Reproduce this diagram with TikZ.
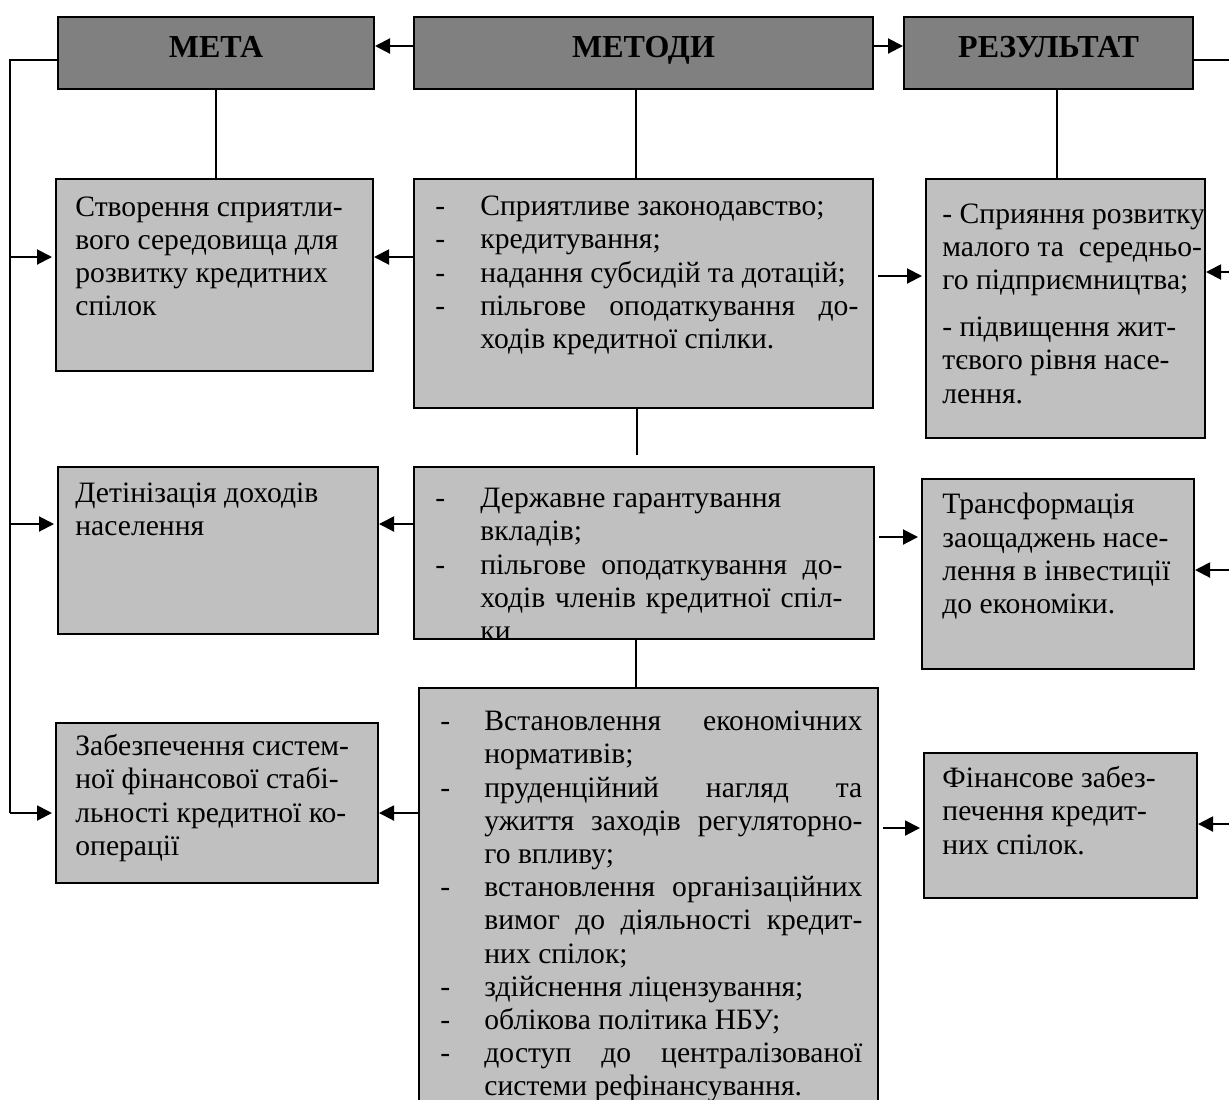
\documentclass[tikz,border=0pt]{standalone}
\usepackage{fontspec}
\setmainfont{Liberation Serif}
\usetikzlibrary{arrows.meta}
\definecolor{headgray}{HTML}{808080}
\definecolor{boxgray}{HTML}{C0C0C0}
\tolerance=10000 \hbadness=10000 \hyphenpenalty=10000
\newlength{\dashw}
\newcommand{\dashln}{\noindent\hangindent=\dashw\hangafter=1\makebox[\dashw][l]{\strut-}}
\tikzset{
  head/.style={draw,line width=1pt,fill=headgray,anchor=north west,inner sep=0pt,
    font=\fontsize{16}{19}\selectfont\bfseries,text height=11pt,text depth=7pt},
  cell/.style={draw,line width=1pt,fill=boxgray,anchor=north west,inner sep=0pt},
  txt/.style={anchor=north west,inner sep=0pt,font=\fontsize{14.8}{16.6}\selectfont,align=left},
  jtxt/.style={txt,align=justify},
  arr/.style={line width=1pt,-{Triangle[length=7.5pt,width=7.5pt]}},
  ln/.style={line width=0.8pt}
}
\begin{document}
\begin{tikzpicture}[x=0.5pt,y=-0.5pt]
\useasboundingbox (0,0) rectangle (1229,1099);
%\draw[teal,step=50] (0,0) grid (1229,1099);
% top row
\node[head,minimum width=158pt,minimum height=36pt] (meta) at (57,16) {МЕТА};
\node[head,minimum width=229.5pt,minimum height=36pt] (metody) at (413,16) {МЕТОДИ};
\node[head,minimum width=144.5pt,minimum height=36pt] (rezult) at (903,16) {РЕЗУЛЬТАТ};
% boxes
\node[cell,minimum width=158.5pt,minimum height=96pt] (goal1) at (55,178) {};
\node[cell,minimum width=160pt,minimum height=83.5pt] (goal2) at (57,466) {};
\node[cell,minimum width=161pt,minimum height=80pt] (goal3) at (55,722) {};
\node[cell,minimum width=229.5pt,minimum height=114.5pt] (meth1) at (413,178) {};
\node[cell,minimum width=230pt,minimum height=86pt] (meth2) at (413,466) {};
\node[cell,minimum width=229.5pt,minimum height=230pt] (meth3) at (418,687) {};
\node[cell,minimum width=139.5pt,minimum height=129.5pt] (res1) at (925,178) {};
\node[cell,minimum width=136pt,minimum height=95pt] (res2) at (921,478) {};
\node[cell,minimum width=136.5pt,minimum height=72.5pt] (res3) at (923,752) {};
% texts
\node[txt] (goal1t) at (75,196) {Створення сприятли-\\вого середовища для\\розвитку кредитних\\спілок};
\node[txt] (goal2t) at (75,482) {Детінізація доходів\\населення};
\node[txt] (goal3t) at (75,734) {Забезпечення систем-\\ної фінансової стабі-\\льності кредитної ко-\\операції};
\node[jtxt,text width=211.5pt] (meth1t) at (435,192) {\setlength{\dashw}{22.5pt}%
\dashln Сприятливе законодавство;\par
\dashln кредитування;\par
\dashln надання субсидій та дотацій;\par
\dashln пільгове оподаткування до-\linebreak ходів кредитної спілки.\par};
\begin{scope}
\clip (meth2.north west) rectangle (meth2.south east);
\node[jtxt,text width=203.5pt] (meth2t) at (435,484) {\setlength{\dashw}{22.5pt}%
\dashln Державне гарантування\hfil\break вкладів;\par
\dashln пільгове оподаткування  до-\linebreak ходів  членів кредитної спіл-\linebreak ки\par};
\end{scope}
\node[jtxt,text width=211pt] (meth3t) at (440,707) {\setlength{\dashw}{22pt}%
\dashln Встановлення економічних\linebreak нормативів;\par
\dashln пруденційний нагляд та\linebreak ужиття заходів регуляторно-\linebreak го впливу;\par
\dashln встановлення організаційних\linebreak вимог до діяльності кредит-\linebreak них спілок;\par
\dashln здійснення ліцензування;\par
\dashln облікова політика НБУ;\par
\dashln доступ до централізованої\linebreak системи рефінансування.\par};
\node[txt] (res1t) at (942,203) {- Сприяння розвитку\\малого та\ \ середньо-\\го підприємництва;\\[7pt]- підвищення жит-\\тєвого рівня насе-\\лення.};
\node[txt] (res2t) at (942,493) {Трансформація\\заощаджень насе-\\лення в інвестиції\\до економіки.};
\node[txt] (res3t) at (942,766) {Фінансове забез-\\печення кредит-\\них спілок.};
% rows for the arrows
\coordinate (r1) at (0,257); \coordinate (r2) at (0,524); \coordinate (r3) at (0,813);
\coordinate (q1) at (0,276); \coordinate (q2) at (0,537); \coordinate (q3) at (0,828);
\coordinate (s1) at (0,272); \coordinate (s2) at (0,570); \coordinate (s3) at (0,824);
\coordinate (lbus) at (10,0); \coordinate (rbus) at (1240,0);
\coordinate (spine) at (636,0); \coordinate (rspine) at (1057,0);
\coordinate (stub) at (637,455);
% top arrows
\draw[arr] ([yshift=3.5pt]metody.west) -- ([yshift=3.5pt]meta.east);
\draw[arr] ([yshift=3.5pt]metody.east) -- ([yshift=3.5pt]rezult.west);
% vertical lines
\draw[ln] (meta.south) -- (meta.south |- goal1.north);
\draw[ln] (metody.south -| spine) -- (meth1.north -| spine);
\draw[ln] (meth1.south -| stub) -- (stub);
\draw[ln] (meth2.south -| spine) -- (meth3.north -| spine);
\draw[ln] (rezult.south -| rspine) -- (res1.north -| rspine);
% left bus
\draw[ln] ([yshift=-3.5pt]meta.west) -| (lbus |- r3);
\draw[arr] (lbus |- r1) -- ([xshift=-1.5pt]goal1.west |- r1);
\draw[arr] (lbus |- r2) -- ([xshift=-1.5pt]goal2.west |- r2);
\draw[arr] (lbus |- r3) -- ([xshift=-1.5pt]goal3.west |- r3);
% methods to goals
\draw[arr] (meth1.west |- r1) -- (goal1.east |- r1);
\draw[arr] (meth2.west |- r2) -- (goal2.east |- r2);
\draw[arr] (meth3.west |- r3) -- (goal3.east |- r3);
% methods to results
\draw[arr] ([xshift=2pt]meth1.east |- q1) -- ([xshift=-1.5pt]res1.west |- q1);
\draw[arr] ([xshift=2pt]meth2.east |- q2) -- ([xshift=-1.5pt]res2.west |- q2);
\draw[arr] ([xshift=2pt]meth3.east |- q3) -- ([xshift=-1.5pt]res3.west |- q3);
% right bus
\draw[ln] ([yshift=-3.5pt]rezult.east) -| (rbus |- s3);
\draw[arr] (rbus |- s1) -- (res1.east |- s1);
\draw[arr] (rbus |- s2) -- (res2.east |- s2);
\draw[arr] (rbus |- s3) -- (res3.east |- s3);
\end{tikzpicture}
\end{document}
